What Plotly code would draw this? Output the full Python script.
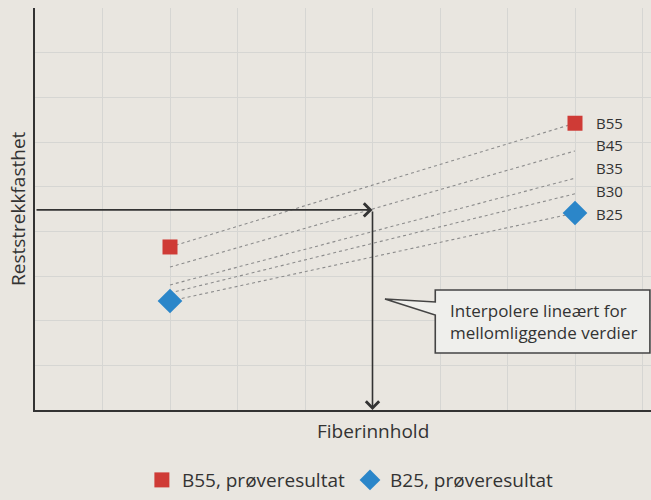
import plotly.graph_objects as go

# ---- data ----
fiber_left = 2.0
fiber_right = 8.0
series_names = ["B55", "B45", "B35", "B30", "B25"]
left_values = [3.65, 3.20, 2.80, 2.62, 2.44]
right_values = [6.42, 5.80, 5.19, 4.84, 4.41]
label_values = [6.42, 5.93, 5.42, 4.90, 4.39]

b55_x = [2.0, 8.0]
b55_y = [3.65, 6.42]
b25_x = [2.0, 8.0]
b25_y = [2.44, 4.41]

reading_x = 5.0
reading_y = 4.48

x_title = "Fiberinnhold"
y_title = "Reststrekkfasthet"
callout_text = "Interpolere lineært for<br>mellomliggende verdier"

FONT = "Open Sans"
BG = "#e9e6e0"
DARK = "#333333"

fig = go.Figure()

for name, l, r in zip(series_names, left_values, right_values):
    fig.add_trace(go.Scatter(
        x=[fiber_left, fiber_right], y=[l, r], mode="lines",
        line=dict(color="#8c8c8c", width=1.1, dash="dot"),
        showlegend=False, hoverinfo="skip"))

fig.add_trace(go.Scatter(
    x=b55_x, y=b55_y, mode="markers", name="B55, prøveresultat",
    marker=dict(symbol="square", size=15, color="#cf3b36")))
fig.add_trace(go.Scatter(
    x=b25_x, y=b25_y, mode="markers", name="B25, prøveresultat",
    marker=dict(symbol="diamond", size=19, color="#2b86c9")))

# series labels
for name, yv in zip(series_names, label_values):
    fig.add_annotation(x=fiber_right, y=yv, text=name, showarrow=False,
                       xanchor="left", yanchor="middle", xshift=19,
                       font=dict(family=FONT, size=15, color=DARK))

# reading arrows
fig.add_annotation(x=reading_x, y=reading_y, ax=0, ay=reading_y,
                   xref="x", yref="y", axref="x", ayref="y", text="",
                   showarrow=True, arrowhead=4, arrowsize=1.6, arrowwidth=1.6,
                   arrowcolor=DARK, standoff=0)
fig.add_annotation(x=reading_x, y=0, ax=reading_x, ay=reading_y,
                   xref="x", yref="y", axref="x", ayref="y", text="",
                   showarrow=True, arrowhead=4, arrowsize=1.6, arrowwidth=1.6,
                   arrowcolor=DARK, standoff=0)

# callout box with pointer
bx0, bx1, by0, by1 = 5.93, 9.11, 1.276, 2.686
tip_x, tip_y = 5.185, 2.485
fig.add_shape(type="path",
              path=(f"M {bx0},{by1} L {bx1},{by1} L {bx1},{by0} L {bx0},{by0} "
                    f"L {bx0},2.127 L {tip_x},{tip_y} L {bx0},2.418 Z"),
              xref="x", yref="y", fillcolor="#efefec",
              line=dict(color="#444444", width=1.6), layer="above")
fig.add_annotation(x=6.12, y=1.99, text=callout_text, showarrow=False,
                   xanchor="left", yanchor="middle", align="left",
                   font=dict(family=FONT, size=17, color=DARK))

# axis titles
fig.add_annotation(x=reading_x, y=0, xref="x", yref="y", text=x_title,
                   showarrow=False, yanchor="middle", yshift=-21,
                   font=dict(family=FONT, size=19, color=DARK))
fig.add_annotation(x=0, y=0.5, xref="paper", yref="paper", text=y_title,
                   showarrow=False, textangle=-90, xanchor="center",
                   yanchor="middle", xshift=-17,
                   font=dict(family=FONT, size=19, color=DARK))

fig.update_layout(
    width=651, height=500,
    margin=dict(l=35, r=0, t=8, b=90),
    paper_bgcolor=BG, plot_bgcolor=BG,
    font=dict(family=FONT, color=DARK),
    showlegend=True,
    legend=dict(orientation="h", x=0.512, xanchor="center",
                y=-0.2215, yanchor="bottom",
                font=dict(family=FONT, size=19, color=DARK),
                bgcolor="rgba(0,0,0,0)", itemwidth=30),
    xaxis=dict(range=[0, 9.126], dtick=1, tick0=0, showticklabels=False,
               showgrid=True, gridcolor="#d6d6d3", gridwidth=1,
               zeroline=False, showline=True, linecolor=DARK, linewidth=2,
               ticks=""),
    yaxis=dict(range=[0, 9], dtick=1, tick0=0, showticklabels=False,
               showgrid=True, gridcolor="#d6d6d3", gridwidth=1,
               zeroline=False, showline=True, linecolor=DARK, linewidth=2,
               ticks=""),
)

fig.write_html(
    "out.html",
    config={"displayModeBar": False},
    post_script="document.body.style.margin='0';document.body.style.background='#e9e6e0';",
)
